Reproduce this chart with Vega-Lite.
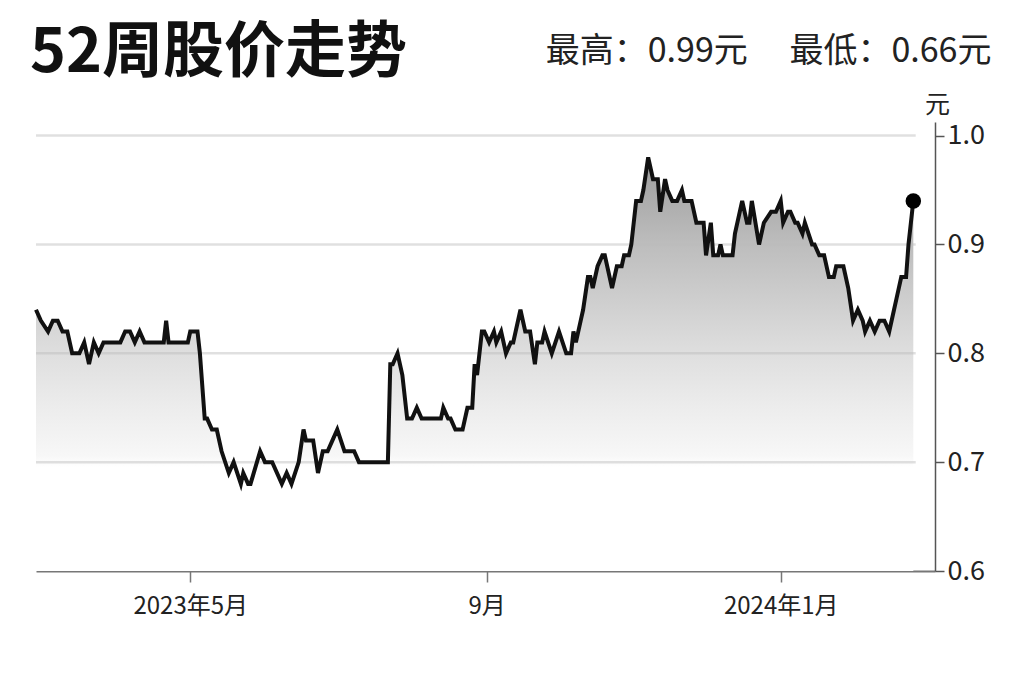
{
  "$schema": "https://vega.github.io/schema/vega-lite/v6.json",
  "width": 899,
  "height": 449,
  "autosize": {"type": "none"},
  "padding": {"left": 36, "top": 122, "right": 89, "bottom": 111},
  "background": "#ffffff",
  "title": {
    "text": "52周股价走势",
    "anchor": "start",
    "frame": "group",
    "font": "Noto Sans CJK SC",
    "fontSize": 61,
    "fontWeight": "bold",
    "color": "#111111",
    "baseline": "alphabetic",
    "offset": 0,
    "dx": -6,
    "dy": 99
  },
  "config": {
    "view": {"stroke": null},
    "font": "Noto Sans CJK SC"
  },
  "datasets": {
    "price": [
      {"date": "2023/02/26", "price": 0.84},
      {"date": "2023/02/28", "price": 0.83},
      {"date": "2023/03/03", "price": 0.82},
      {"date": "2023/03/05", "price": 0.83},
      {"date": "2023/03/07", "price": 0.83},
      {"date": "2023/03/09", "price": 0.82},
      {"date": "2023/03/11", "price": 0.82},
      {"date": "2023/03/13", "price": 0.80},
      {"date": "2023/03/16", "price": 0.80},
      {"date": "2023/03/18", "price": 0.81},
      {"date": "2023/03/20", "price": 0.79},
      {"date": "2023/03/22", "price": 0.81},
      {"date": "2023/03/24", "price": 0.80},
      {"date": "2023/03/26", "price": 0.81},
      {"date": "2023/04/02", "price": 0.81},
      {"date": "2023/04/04", "price": 0.82},
      {"date": "2023/04/06", "price": 0.82},
      {"date": "2023/04/08", "price": 0.81},
      {"date": "2023/04/10", "price": 0.82},
      {"date": "2023/04/12", "price": 0.81},
      {"date": "2023/04/20", "price": 0.81},
      {"date": "2023/04/21", "price": 0.83},
      {"date": "2023/04/22", "price": 0.81},
      {"date": "2023/04/30", "price": 0.81},
      {"date": "2023/05/01", "price": 0.82},
      {"date": "2023/05/04", "price": 0.82},
      {"date": "2023/05/05", "price": 0.80},
      {"date": "2023/05/07", "price": 0.74},
      {"date": "2023/05/08", "price": 0.74},
      {"date": "2023/05/10", "price": 0.73},
      {"date": "2023/05/12", "price": 0.73},
      {"date": "2023/05/14", "price": 0.71},
      {"date": "2023/05/17", "price": 0.69},
      {"date": "2023/05/19", "price": 0.70},
      {"date": "2023/05/22", "price": 0.68},
      {"date": "2023/05/23", "price": 0.69},
      {"date": "2023/05/25", "price": 0.68},
      {"date": "2023/05/26", "price": 0.68},
      {"date": "2023/05/30", "price": 0.71},
      {"date": "2023/06/01", "price": 0.70},
      {"date": "2023/06/04", "price": 0.70},
      {"date": "2023/06/08", "price": 0.68},
      {"date": "2023/06/10", "price": 0.69},
      {"date": "2023/06/12", "price": 0.68},
      {"date": "2023/06/15", "price": 0.70},
      {"date": "2023/06/17", "price": 0.73},
      {"date": "2023/06/18", "price": 0.72},
      {"date": "2023/06/21", "price": 0.72},
      {"date": "2023/06/23", "price": 0.69},
      {"date": "2023/06/25", "price": 0.71},
      {"date": "2023/06/27", "price": 0.71},
      {"date": "2023/06/29", "price": 0.72},
      {"date": "2023/07/01", "price": 0.73},
      {"date": "2023/07/04", "price": 0.71},
      {"date": "2023/07/08", "price": 0.71},
      {"date": "2023/07/10", "price": 0.70},
      {"date": "2023/07/22", "price": 0.70},
      {"date": "2023/07/23", "price": 0.79},
      {"date": "2023/07/24", "price": 0.79},
      {"date": "2023/07/26", "price": 0.80},
      {"date": "2023/07/28", "price": 0.78},
      {"date": "2023/07/30", "price": 0.74},
      {"date": "2023/08/01", "price": 0.74},
      {"date": "2023/08/03", "price": 0.75},
      {"date": "2023/08/05", "price": 0.74},
      {"date": "2023/08/13", "price": 0.74},
      {"date": "2023/08/14", "price": 0.75},
      {"date": "2023/08/16", "price": 0.74},
      {"date": "2023/08/17", "price": 0.74},
      {"date": "2023/08/19", "price": 0.73},
      {"date": "2023/08/22", "price": 0.73},
      {"date": "2023/08/24", "price": 0.75},
      {"date": "2023/08/26", "price": 0.75},
      {"date": "2023/08/27", "price": 0.79},
      {"date": "2023/08/28", "price": 0.78},
      {"date": "2023/08/30", "price": 0.82},
      {"date": "2023/08/31", "price": 0.82},
      {"date": "2023/09/02", "price": 0.81},
      {"date": "2023/09/04", "price": 0.82},
      {"date": "2023/09/05", "price": 0.81},
      {"date": "2023/09/07", "price": 0.82},
      {"date": "2023/09/09", "price": 0.80},
      {"date": "2023/09/11", "price": 0.81},
      {"date": "2023/09/12", "price": 0.81},
      {"date": "2023/09/15", "price": 0.84},
      {"date": "2023/09/17", "price": 0.82},
      {"date": "2023/09/19", "price": 0.82},
      {"date": "2023/09/21", "price": 0.79},
      {"date": "2023/09/22", "price": 0.81},
      {"date": "2023/09/24", "price": 0.81},
      {"date": "2023/09/25", "price": 0.82},
      {"date": "2023/09/28", "price": 0.80},
      {"date": "2023/10/01", "price": 0.82},
      {"date": "2023/10/04", "price": 0.80},
      {"date": "2023/10/06", "price": 0.80},
      {"date": "2023/10/07", "price": 0.82},
      {"date": "2023/10/08", "price": 0.81},
      {"date": "2023/10/10", "price": 0.83},
      {"date": "2023/10/11", "price": 0.84},
      {"date": "2023/10/13", "price": 0.87},
      {"date": "2023/10/14", "price": 0.87},
      {"date": "2023/10/15", "price": 0.86},
      {"date": "2023/10/17", "price": 0.88},
      {"date": "2023/10/19", "price": 0.89},
      {"date": "2023/10/20", "price": 0.89},
      {"date": "2023/10/23", "price": 0.86},
      {"date": "2023/10/25", "price": 0.88},
      {"date": "2023/10/27", "price": 0.88},
      {"date": "2023/10/28", "price": 0.89},
      {"date": "2023/10/30", "price": 0.89},
      {"date": "2023/10/31", "price": 0.90},
      {"date": "2023/11/02", "price": 0.94},
      {"date": "2023/11/04", "price": 0.94},
      {"date": "2023/11/05", "price": 0.95},
      {"date": "2023/11/07", "price": 0.98},
      {"date": "2023/11/08", "price": 0.97},
      {"date": "2023/11/09", "price": 0.96},
      {"date": "2023/11/11", "price": 0.96},
      {"date": "2023/11/12", "price": 0.93},
      {"date": "2023/11/14", "price": 0.96},
      {"date": "2023/11/15", "price": 0.95},
      {"date": "2023/11/17", "price": 0.94},
      {"date": "2023/11/19", "price": 0.94},
      {"date": "2023/11/21", "price": 0.95},
      {"date": "2023/11/22", "price": 0.94},
      {"date": "2023/11/25", "price": 0.94},
      {"date": "2023/11/27", "price": 0.92},
      {"date": "2023/11/30", "price": 0.92},
      {"date": "2023/12/01", "price": 0.89},
      {"date": "2023/12/03", "price": 0.92},
      {"date": "2023/12/04", "price": 0.89},
      {"date": "2023/12/06", "price": 0.89},
      {"date": "2023/12/07", "price": 0.90},
      {"date": "2023/12/08", "price": 0.89},
      {"date": "2023/12/12", "price": 0.89},
      {"date": "2023/12/13", "price": 0.91},
      {"date": "2023/12/16", "price": 0.94},
      {"date": "2023/12/18", "price": 0.92},
      {"date": "2023/12/19", "price": 0.92},
      {"date": "2023/12/20", "price": 0.94},
      {"date": "2023/12/23", "price": 0.90},
      {"date": "2023/12/25", "price": 0.92},
      {"date": "2023/12/28", "price": 0.93},
      {"date": "2023/12/30", "price": 0.93},
      {"date": "2024/01/01", "price": 0.94},
      {"date": "2024/01/02", "price": 0.92},
      {"date": "2024/01/04", "price": 0.93},
      {"date": "2024/01/05", "price": 0.93},
      {"date": "2024/01/07", "price": 0.92},
      {"date": "2024/01/08", "price": 0.92},
      {"date": "2024/01/10", "price": 0.91},
      {"date": "2024/01/11", "price": 0.92},
      {"date": "2024/01/14", "price": 0.90},
      {"date": "2024/01/15", "price": 0.90},
      {"date": "2024/01/17", "price": 0.89},
      {"date": "2024/01/19", "price": 0.89},
      {"date": "2024/01/21", "price": 0.87},
      {"date": "2024/01/23", "price": 0.87},
      {"date": "2024/01/24", "price": 0.88},
      {"date": "2024/01/27", "price": 0.88},
      {"date": "2024/01/29", "price": 0.86},
      {"date": "2024/01/31", "price": 0.83},
      {"date": "2024/02/02", "price": 0.84},
      {"date": "2024/02/04", "price": 0.83},
      {"date": "2024/02/05", "price": 0.82},
      {"date": "2024/02/07", "price": 0.83},
      {"date": "2024/02/09", "price": 0.82},
      {"date": "2024/02/11", "price": 0.83},
      {"date": "2024/02/13", "price": 0.83},
      {"date": "2024/02/15", "price": 0.82},
      {"date": "2024/02/17", "price": 0.84},
      {"date": "2024/02/18", "price": 0.85},
      {"date": "2024/02/20", "price": 0.87},
      {"date": "2024/02/22", "price": 0.87},
      {"date": "2024/02/23", "price": 0.90},
      {"date": "2024/02/25", "price": 0.94}
    ],
    "last": [
      {"date": "2024/02/25", "price": 0.94}
    ],
    "grid": [
      {"level": 0.7},
      {"level": 0.8},
      {"level": 0.9},
      {"level": 1.0}
    ]
  },
  "layer": [
    {
      "data": {"name": "price"},
      "mark": {
        "type": "area",
        "color": {
          "gradient": "linear",
          "x1": 0, "y1": 0, "x2": 0, "y2": 1,
          "stops": [
            {"offset": 0, "color": "#9c9c9c"},
            {"offset": 0.21, "color": "#bdbdbd"},
            {"offset": 0.47, "color": "#dedede"},
            {"offset": 0.6, "color": "#ececec"},
            {"offset": 0.72, "color": "#f7f7f7"},
            {"offset": 0.75, "color": "#ffffff"},
            {"offset": 1, "color": "#ffffff"}
          ]
        }
      },
      "encoding": {
        "x": {
          "field": "date",
          "type": "temporal",
          "scale": {
            "domain": [
              {"year": 2023, "month": 2, "date": 26},
              {"year": 2024, "month": 3, "date": 5}
            ]
          },
          "axis": {
            "values": [
              {"year": 2023, "month": 5, "date": 1},
              {"year": 2023, "month": 9, "date": 1},
              {"year": 2024, "month": 1, "date": 1}
            ],
            "labelExpr": "month(datum.value) == 8 ? '9月' : timeFormat(datum.value, '%Y年%-m月')",
            "grid": false,
            "domainColor": "#777777",
            "domainWidth": 2,
            "tickColor": "#777777",
            "tickWidth": 1.5,
            "tickSize": 11,
            "labelFont": "Noto Sans CJK SC",
            "labelFontSize": 24,
            "labelColor": "#222222",
            "labelPadding": 12,
            "labelFlush": false,
            "title": "最高：0.99元　 最低：0.66元",
            "titleFont": "Noto Sans CJK SC",
            "titleFontSize": 34,
            "titleFontWeight": "normal",
            "titleColor": "#222222",
            "titleX": 955,
            "titleY": -510,
            "titleAlign": "right",
            "titleAnchor": "end",
            "titleBaseline": "alphabetic"
          }
        },
        "y": {
          "field": "price",
          "type": "quantitative",
          "scale": {"domain": [0.6, 1.0125], "zero": false, "nice": false},
          "axis": {
            "orient": "right",
            "values": [0.6, 0.7, 0.8, 0.9, 1.0],
            "format": ".1f",
            "grid": false,
            "domainColor": "#555555",
            "domainWidth": 1.5,
            "tickColor": "#555555",
            "tickWidth": 1.5,
            "tickSize": 9,
            "labelFont": "Noto Sans CJK SC",
            "labelFontSize": 27,
            "labelColor": "#222222",
            "labelPadding": 3,
            "labelFlush": false,
            "title": "元",
            "titleFont": "Noto Sans CJK SC",
            "titleFontSize": 25,
            "titleFontWeight": "normal",
            "titleColor": "#222222",
            "titleAngle": 0,
            "titleX": 2,
            "titleY": -18,
            "titleAlign": "center",
            "titleBaseline": "middle"
          }
        },
        "y2": {"datum": 0.6}
      }
    },
    {
      "data": {"name": "grid"},
      "mark": {"type": "rule", "color": "#bbbbbb", "strokeWidth": 2.5, "opacity": 0.45},
      "encoding": {
        "x": {"datum": {"year": 2023, "month": 2, "date": 26}, "type": "temporal"},
        "x2": {"datum": {"year": 2024, "month": 2, "date": 26}},
        "y": {"field": "level", "type": "quantitative"}
      }
    },
    {
      "data": {"name": "price"},
      "mark": {"type": "line", "color": "#111111", "strokeWidth": 4},
      "encoding": {
        "x": {"field": "date", "type": "temporal"},
        "y": {"field": "price", "type": "quantitative"}
      }
    },
    {
      "data": {"name": "last"},
      "mark": {"type": "point", "filled": true, "color": "#000000", "size": 240, "opacity": 1},
      "encoding": {
        "x": {"field": "date", "type": "temporal"},
        "y": {"field": "price", "type": "quantitative"}
      }
    }
  ]
}
